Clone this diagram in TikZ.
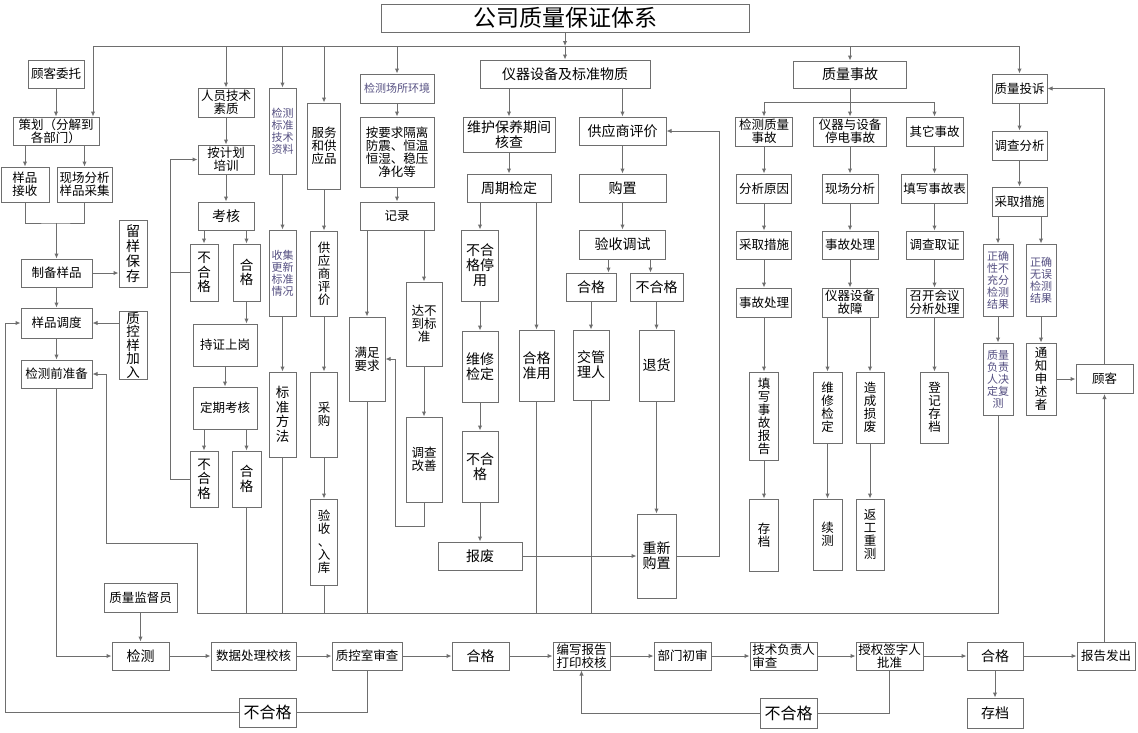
\documentclass[tikz,border=0pt]{standalone}
\usepackage{fontspec}
\newfontfamily\cjk{Noto Sans CJK SC}
\usetikzlibrary{arrows.meta}
\definecolor{lc}{RGB}{110,110,110}
\definecolor{tc}{RGB}{85,80,130}
\newcommand\fsz[2]{\fontsize{#1pt}{#2pt}\selectfont}

\begin{document}
\begin{tikzpicture}[
  x=1pt, y=-1pt,
  box/.style={draw=lc, line width=1pt, inner sep=0pt, align=center, font=\cjk\fsz{12.5}{13}},
  big/.style={font=\cjk\fsz{14}{15}},
  vt/.style={font=\cjk\fsz{13.5}{14.5}},
  sml/.style={font=\cjk\fsz{11}{12}, text=tc},
  huge/.style={font=\cjk\fsz{16}{17}},
  sz/.style 2 args={minimum width=#1pt, minimum height=#2pt},
  ln/.style={draw=lc, line width=1pt},
  arr/.style={ln, -{Latex[length=5pt,width=4.5pt]}},
]
\fill[white] (0,0) rectangle (1138,732);
\useasboundingbox (0,0) rectangle (1138,732);

% Title
\node[box, sz={368}{28}, font=\cjk\fsz{23}{24}] (title) at (565,18) {公司质量保证体系};

% Sample handling (left)
\node[box, sz={56}{28}] (gkwt) at (56,74) {顾客委托};
\node[box, sz={86}{28}] (ch) at (56,131) {策划（分解到\\各部门）};
\node[box, sz={48}{35}] (ypjs) at (25,184.5) {样品\\接收};
\node[box, sz={55}{35}] (xcfx0) at (84.5,184.5) {现场分析\\样品采集};
\node[box, sz={71}{28}] (zbyp) at (56.5,273) {制备样品};
\node[box, font=\cjk\fsz{14}{15}, sz={28}{67}] (lybc) at (133,253.5) {留\\样\\保\\存};
\node[box, sz={71}{30}] (ypdd) at (56.5,323) {样品调度};
\node[box, font=\cjk\fsz{13.5}{13.5}, sz={28}{68}] (zkyp) at (133,345) {质\\控\\样\\加\\入};
\node[box, sz={71}{28}] (jcqzb) at (56.5,374) {检测前准备};

% Staff
\node[box, sz={56}{29}] (ryjs) at (226,102.5) {人员技术\\素质};
\node[box, sz={56}{29}] (pxjh) at (226,159.5) {按计划\\培训};
\node[box, big, sz={56}{28}] (kh) at (226,216) {考核};
\node[box, vt, sz={28}{57}] (bhg3) at (204,272.5) {不\\合\\格};
\node[box, vt, sz={27}{57}] (hg3) at (246.5,272.5) {合\\格};
\node[box, sz={64}{42}] (czsg) at (225,345) {持证上岗};
\node[box, sz={64}{42}] (dqkh) at (225,408) {定期考核};
\node[box, vt, sz={28}{56}] (bhg4) at (204,479) {不\\合\\格};
\node[box, vt, sz={29}{56}] (hg4) at (246.5,479) {合\\格};

% Standards
\node[box, sml, sz={27}{86}] (jcbz) at (282.5,131) {检测\\标准\\技术\\资料};
\node[box, sml, sz={27}{86}] (sjgx) at (282.5,273) {收集\\更新\\标准\\情况};
\node[box, vt, sz={27}{85}] (bzff) at (282.5,414.5) {标\\准\\方\\法};

% Services and supplies
\node[box, sz={33}{86}] (fwgy) at (324,146) {服务\\和供\\应品};
\node[box, sz={27}{85}] (gyspj1) at (324,273.5) {供\\应\\商\\评\\价};
\node[box, sz={27}{85}] (cg) at (324,414.5) {采\\购};
\node[box, sz={27}{86}] (ysrk) at (324,542) {验\\收\\、\\入\\库};

% Environment
\node[box, sml, sz={74}{29}] (jccs) at (397,88.5) {检测场所环境};
\node[box, sz={74}{70}] (ayq) at (397,152) {按要求隔离\\防震、恒温\\恒湿、稳压\\净化等};
\node[box, sz={74}{28}] (jl) at (397,216) {记录};
\node[box, sz={36}{84}] (mzyq) at (367,359) {满足\\要求};
\node[box, sz={36}{84}] (dbd) at (424,324) {达不\\到标\\准};
\node[box, sz={36}{85}] (dcgs) at (424,459.5) {调查\\改善};

% Equipment
\node[box, big, sz={170}{28}] (yqsb) at (565,74) {仪器设备及标准物质};
\node[box, big, sz={92}{35}] (whby) at (509,134.5) {维护保养期间\\核查};
\node[box, big, sz={84}{28}] (zqjd) at (509,188) {周期检定};
\node[box, big, sz={37}{71}] (bhgty) at (480,265.5) {不合\\格停\\用};
\node[box, big, sz={36}{71}] (wxjd) at (480,366.5) {维修\\检定};
\node[box, big, sz={36}{71}] (bhg5) at (480,466.5) {不合\\格};
\node[box, big, sz={84}{28}] (bf) at (480,556) {报废};
\node[box, big, sz={35}{71}] (hgzy) at (536.5,365.5) {合格\\准用};
\node[box, big, sz={87}{28}] (gyspj2) at (622.5,131) {供应商评价};
\node[box, big, sz={87}{28}] (gz) at (622.5,188) {购置};
\node[box, big, sz={86}{29}] (ystx) at (622.5,244.5) {验收调试};
\node[box, big, sz={50}{28}] (hg5) at (591,287) {合格};
\node[box, big, sz={53}{28}] (bhg6) at (656.5,287) {不合格};
\node[box, big, sz={36}{70}] (jgl) at (591,365) {交管\\理人};
\node[box, big, sz={35}{71}] (th) at (656.5,365.5) {退货};
\node[box, big, sz={39}{84}] (cxgz) at (656.5,556) {重新\\购置};

% Quality accidents
\node[box, big, sz={113}{27}] (zlsg) at (850,74.5) {质量事故};
\node[box, sz={57}{29}] (jczl) at (764,131.5) {检测质量\\事故};
\node[box, sz={73}{29}] (yqtd) at (850,131.5) {仪器与设备\\停电事故};
\node[box, sz={57}{29}] (qtsg) at (934.5,131.5) {其它事故};
\node[box, sz={55}{29}] (fxyy) at (764,188.5) {分析原因};
\node[box, sz={56}{29}] (xcfx) at (850,188.5) {现场分析};
\node[box, sz={66}{29}] (txsgb) at (934.5,188.5) {填写事故表};
\node[box, sz={55}{28}] (cqcs1) at (764,245) {采取措施};
\node[box, sz={56}{28}] (sgcl2) at (850,245) {事故处理};
\node[box, sz={57}{28}] (dcqz) at (934.5,245) {调查取证};
\node[box, sz={55}{29}] (sgcl1) at (764,302.5) {事故处理};
\node[box, sz={56}{29}] (yqgz) at (850,302.5) {仪器设备\\故障};
\node[box, sz={57}{29}] (zkhy) at (934.5,302.5) {召开会议\\分析处理};
\node[box, sz={29}{88}] (txsgbg) at (764,416) {填\\写\\事\\故\\报\\告};
\node[box, sz={29}{72}] (cd1) at (764,535) {存\\档};
\node[box, sz={29}{71}] (wxjd2) at (827.5,407.5) {维\\修\\检\\定};
\node[box, sz={29}{71}] (xc) at (827.5,534.5) {续\\测};
\node[box, sz={28}{71}] (zcsf) at (870,407.5) {造\\成\\损\\废};
\node[box, sz={28}{71}] (fgcc) at (870,534.5) {返\\工\\重\\测};
\node[box, sz={28}{71}] (djcd) at (934.5,407.5) {登\\记\\存\\档};

% Complaints
\node[box, sz={55}{29}] (zlts) at (1019.5,88.5) {质量投诉};
\node[box, sz={55}{29}] (dcfx) at (1019.5,145.5) {调查分析};
\node[box, sz={55}{29}] (cqcs2) at (1019.5,201.5) {采取措施};
\node[box, sml, sz={30}{72}] (zqbc) at (998,280) {正确\\性不\\充分\\检测\\结果};
\node[box, sml, sz={30}{72}] (zqww) at (1041,280) {正确\\无误\\检测\\结果};
\node[box, sml, sz={30}{72}] (zlfz) at (998,379) {质量\\负责\\人决\\定复\\测};
\node[box, sz={30}{72}] (tzss) at (1041,379) {通\\知\\申\\述\\者};
\node[box, sz={57}{29}] (gk) at (1104.5,379) {顾客};

% Testing and report flow (bottom)
\node[box, sz={73}{29}] (zljdy) at (140.5,597.5) {质量监督员};
\node[box, big, sz={57}{28}] (jc) at (140.5,656) {检测};
\node[box, sz={85}{28}] (sjcl) at (253.5,656) {数据处理校核};
\node[box, sz={70}{28}] (zksc) at (367,656) {质控室审查};
\node[box, big, sz={57}{28}] (hg1) at (480.5,656) {合格};
\node[box, sz={57}{28}] (bxbg) at (581.5,656) {编写报告\\打印校核};
\node[box, sz={57}{28}] (bmcs) at (682.5,656) {部门初审};
\node[box, sz={67}{28}, align=left] (jsfz) at (783.5,656) {技术负责人\\审查};
\node[box, sz={67}{28}] (sqqz) at (889.5,656) {授权签字人\\批准};
\node[box, big, sz={56}{28}] (hg2) at (995,656) {合格};
\node[box, sz={58}{28}] (bgfc) at (1106,656) {报告发出};
\node[box, big, sz={56}{30}] (cd2) at (995,713) {存档};
\node[box, huge, sz={57}{29}] (bhg1) at (267.5,712.5) {不合格};
\node[box, huge, sz={57}{30}] (bhg2) at (788.5,713) {不合格};

% Top bus
\coordinate (busL) at (93,46);
\draw[arr] (title.south) -- (title.south |- busL);
\draw[arr] (busL) -| (zlts.north);
\draw[arr] (busL) -- (busL |- ch.north);
\foreach \n in {ryjs, jcbz, fwgy, jccs, yqsb, zlsg}
  \draw[arr] (\n.north |- busL) -- (\n.north);

% Sample handling links
\draw[arr] (gkwt.south) -- (gkwt.south |- ch.north);
\draw[arr] (ch.south -| ypjs) -- (ypjs.north);
\draw[arr] (ch.south -| xcfx0) -- (xcfx0.north);
\coordinate (mg) at (56.5,223);
\draw[ln] (ypjs.south) |- (mg) -| (xcfx0.south);
\draw[arr] (mg) -- (zbyp.north);
\draw[arr] (zbyp.east) -- (zbyp.east -| lybc.west);
\draw[arr] (zbyp) -- (ypdd);
\draw[arr] (zkyp.west |- ypdd) -- (ypdd.east);
\draw[arr] (ypdd) -- (jcqzb);
\draw[arr] (jcqzb.south) |- (jc.west);
\draw[arr] (zljdy) -- (jc);

% Rejected after QC review
\coordinate (lftx) at (5,0);
\draw[ln] (zksc.south) |- (bhg1.east);
\draw[arr] (bhg1.west) -| (lftx |- ypdd.west) -- (ypdd.west);

% Staff links
\draw[arr] (ryjs) -- (pxjh);
\draw[arr] (pxjh) -- (kh);
\draw[arr] (kh.south -| bhg3) -- (bhg3.north);
\draw[arr] (kh.south -| hg3) -- (hg3.north);
\draw[arr] (hg3.south) -- (hg3.south |- czsg.north);
\draw[arr] (czsg) -- (dqkh);
\draw[arr] (dqkh.south -| bhg4) -- (bhg4.north);
\draw[arr] (dqkh.south -| hg4) -- (hg4.north);
\coordinate (lpx) at (170,0);
\draw[ln] (bhg3.west) -- (bhg3.west -| lpx);
\draw[arr] (bhg4.west) -| (lpx |- pxjh.west) -- (pxjh.west);

% Standards, services, environment
\draw[arr] (jcbz) -- (sjgx);
\draw[arr] (sjgx) -- (bzff);
\draw[arr] (fwgy) -- (gyspj1);
\draw[arr] (gyspj1) -- (cg);
\draw[arr] (cg) -- (ysrk);
\draw[arr] (jccs) -- (ayq);
\draw[arr] (ayq) -- (jl);
\draw[arr] (jl.south -| mzyq) -- (mzyq.north);
\draw[arr] (jl.south -| dbd) -- (dbd.north);
\draw[arr] (dbd) -- (dcgs);
\coordinate (lpm) at (395,526);
\draw[arr] (dcgs.south) |- (lpm) |- (mzyq.east);

% Equipment links
\draw[arr] (yqsb.south -| whby) -- (whby.north);
\draw[arr] (yqsb.south -| gyspj2) -- (gyspj2.north);
\draw[arr] (whby) -- (zqjd);
\draw[arr] (zqjd.south -| bhgty) -- (bhgty.north);
\draw[arr] (zqjd.south -| hgzy) -- (hgzy.north);
\draw[arr] (bhgty) -- (wxjd);
\draw[arr] (wxjd) -- (bhg5);
\draw[arr] (bhg5) -- (bf);
\draw[arr] (bf) -- (cxgz);
\draw[arr] (gyspj2) -- (gz);
\draw[arr] (gz) -- (ystx);
\draw[arr] ([xshift=-14pt]ystx.south) -- ([xshift=-14pt]ystx.south |- hg5.north);
\draw[arr] ([xshift=28pt]ystx.south) -- ([xshift=28pt]ystx.south |- bhg6.north);
\draw[arr] (hg5) -- (jgl);
\draw[arr] (bhg6) -- (th);
\draw[arr] (th) -- (cxgz);
\coordinate (rtx) at (719,0);
\draw[arr] (cxgz.east) -| (rtx |- gyspj2.east) -- (gyspj2.east);

% Accident links
\coordinate (sgb) at (0,102);
\draw[ln] (zlsg.south) -- (zlsg.south |- sgb);
\draw[ln] (jczl.north |- sgb) -- (qtsg.north |- sgb);
\foreach \n in {jczl, yqtd, qtsg}
  \draw[arr] (\n.north |- sgb) -- (\n.north);
\foreach \a/\b in {jczl/fxyy, fxyy/cqcs1, cqcs1/sgcl1, sgcl1/txsgbg, txsgbg/cd1,
                   yqtd/xcfx, xcfx/sgcl2, sgcl2/yqgz,
                   qtsg/txsgb, txsgb/dcqz, dcqz/zkhy, zkhy/djcd}
  \draw[arr] (\a.south) -- (\a.south |- \b.north);
\draw[arr] (yqgz.south -| wxjd2) -- (wxjd2.north);
\draw[arr] (yqgz.south -| zcsf) -- (zcsf.north);
\draw[arr] (wxjd2) -- (xc);
\draw[arr] (zcsf) -- (fgcc);

% Complaint links
\draw[arr] (zlts) -- (dcfx);
\draw[arr] (dcfx) -- (cqcs2);
\draw[arr] (cqcs2.south -| zqbc) -- (zqbc.north);
\draw[arr] (cqcs2.south -| zqww) -- (zqww.north);
\draw[arr] (zqbc) -- (zlfz);
\draw[arr] (zqww) -- (tzss);
\draw[arr] (tzss.east) -- (tzss.east -| gk.west);
\draw[arr] (gk.north) |- (zlts.east);
\draw[arr] (gk |- bgfc.north) -- (gk.south);

% Bottom bus back to preparation
\coordinate (bb) at (197,613);
\coordinate (cn) at (106,543);
\draw[arr] (zlfz.south) |- (bb) |- (cn) |- (jcqzb.east);
\foreach \n in {hg4, bzff, ysrk, mzyq, hgzy, jgl}
  \draw[ln] (\n.south) -- (\n.south |- bb);

% Report chain
\foreach \a/\b in {jc/sjcl, sjcl/zksc, zksc/hg1, hg1/bxbg, bxbg/bmcs, bmcs/jsfz, jsfz/sqqz, sqqz/hg2, hg2/bgfc}
  \draw[arr] (\a) -- (\b);
\draw[ln] (sqqz.south) |- (bhg2.east);
\draw[arr] (bhg2.west) -| (bxbg.south);
\draw[arr] (hg2) -- (cd2);

\end{tikzpicture}
\end{document}
